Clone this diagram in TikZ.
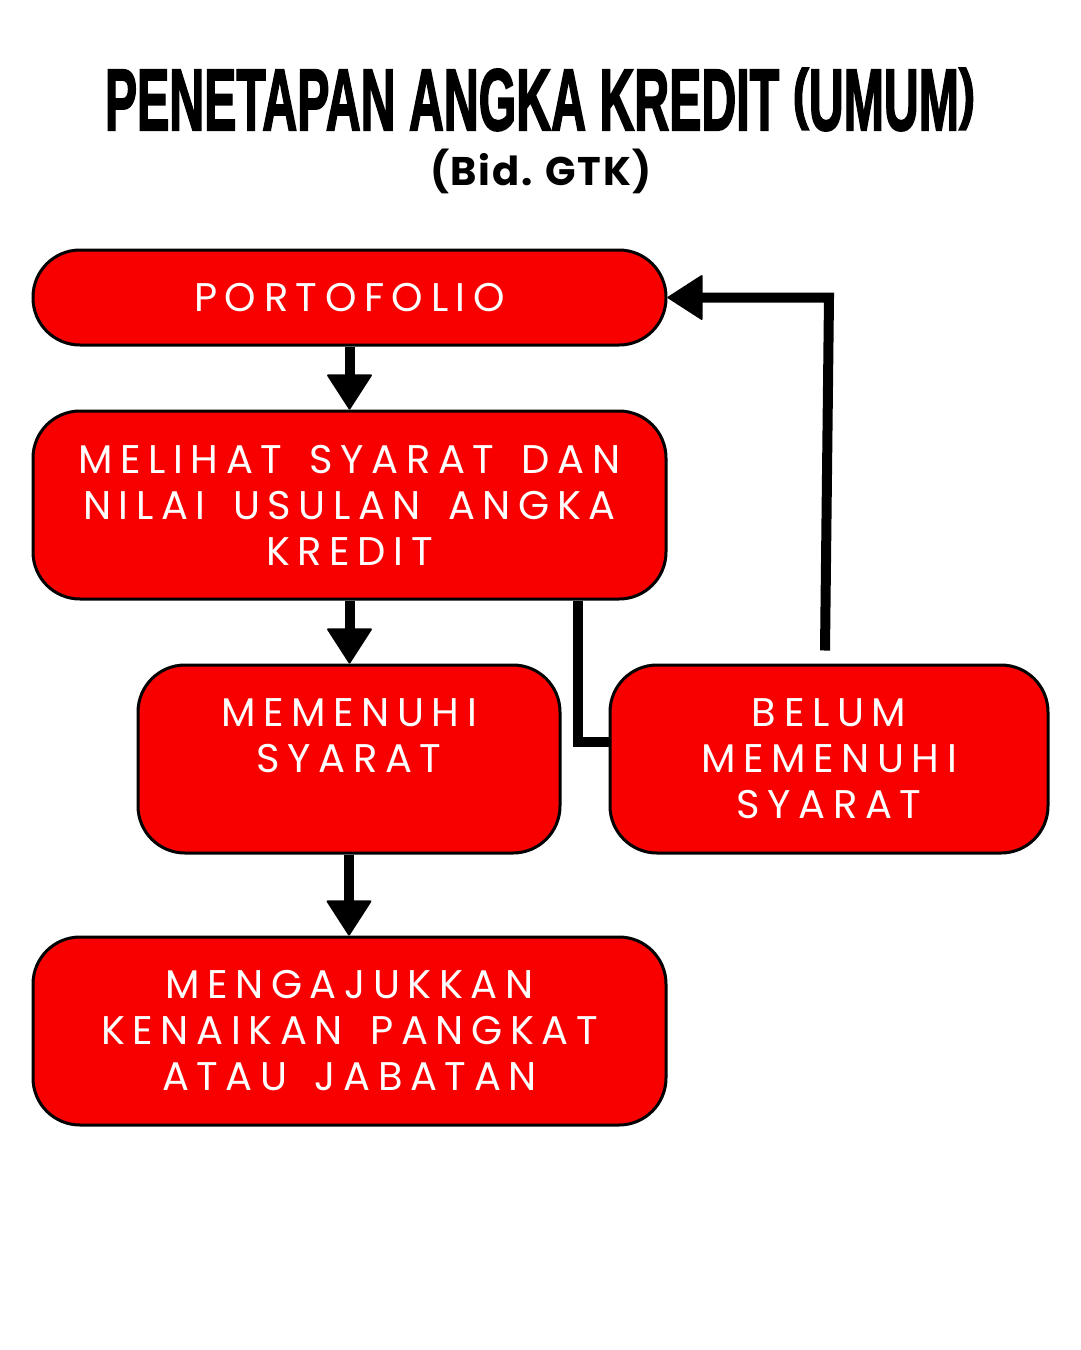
\documentclass[tikz,border=0pt]{standalone}
\usepackage{graphicx}
\usepackage{fontspec}
\setmainfont{Poppins}
\newfontfamily\lettres[LetterSpace=19,WordSpace=1.5]{Poppins}
\newfontfamily\soustitre[LetterSpace=4]{Poppins}
\newfontfamily\grandtitre[UprightFont=* Bold,FakeBold=2.5]{Liberation Sans}
\usepackage{tikz}
\definecolor{rouge}{HTML}{F80000}
\usetikzlibrary{calc,arrows.meta}

% parentheses du titre, ramenees a la hauteur des capitales
\newcommand\parg{\raisebox{0.16em}{\scalebox{1}[0.76]{(}}}
\newcommand\pard{\raisebox{0.16em}{\scalebox{1}[0.76]{)}}}

\tikzset{
  boite/.style={rectangle, rounded corners=47pt, draw=black, line width=3pt,
    fill=rouge, text=white, align=center, inner sep=0pt,
    font=\lettres\fontsize{40}{46}\selectfont},
  fleche/.style={line width=10pt,
    -{Triangle[length=36pt,width=46pt,round,line width=2pt]}},
  lien/.style={line width=10pt}
}

\begin{document}
\begin{tikzpicture}[x=1pt,y=-1pt]
  \fill[white] (0,0) rectangle (1080,1350);
  \useasboundingbox (0,0) rectangle (1080,1350);

  \node[anchor=base] at (540,130) (t)
    {\resizebox{870pt}{62pt}{\grandtitre PENETAPAN ANGKA KREDIT \parg UMUM\pard}};
  \node[anchor=base,font=\soustitre\fontsize{40}{40}\selectfont\bfseries] at (541,185) (s) {(Bid. GTK)};

  \node[
    boite,
    minimum width=633pt,
    minimum height=95pt] at (349.5,297.5) (a) {PORTOFOLIO};

  \node[
    boite,
    minimum width=633pt,
    minimum height=188pt] at (349.5,505) (b) {MELIHAT SYARAT DAN\\NILAI USULAN ANGKA\\KREDIT};

  \node[
    boite,
    minimum width=422pt,
    minimum height=188pt] at (349,759) (c) {MEMENUHI\\SYARAT\\\mbox{}};

  \node[
    boite,
    minimum width=438pt,
    minimum height=188pt] at (829,759) (d) {BELUM\\MEMENUHI\\SYARAT};

  \node[
    boite,
    minimum width=633pt,
    minimum height=188pt] at (349.5,1031) (e) {MENGAJUKKAN\\KENAIKAN PANGKAT\\ATAU JABATAN};

  \draw[fleche] (a.south) -- (b.north);
  \draw[fleche] (b.south) -- (c.north -| b.south);
  \draw[fleche] (c.south) -- (e.north -| c.south);

  \draw[lien] ($(b.south)+(228,0)$) |- ($(d.west)+(0,-17)$);
  \draw[fleche] ($(d.north)+(-4,-13)$) -- (a.east -| d.north) -- (a.east);

\end{tikzpicture}
\end{document}
